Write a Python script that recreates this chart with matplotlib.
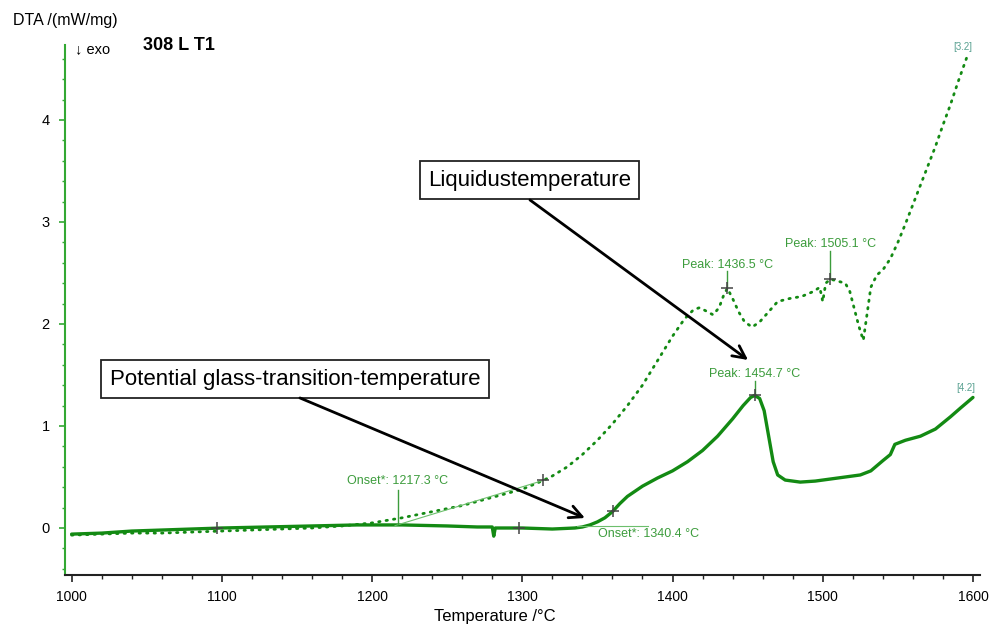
import matplotlib
matplotlib.use('Agg')
import matplotlib.pyplot as plt
from matplotlib.ticker import MultipleLocator
import numpy as np

plt.rcParams['font.family'] = ['Liberation Sans', 'DejaVu Sans']

# DTA segment [3.2] (dotted)
t_32 = [1000, 1020, 1040, 1060, 1080, 1100, 1120, 1140, 1160, 1180, 1200, 1220,
        1240, 1260, 1280, 1300, 1313, 1320, 1330, 1340, 1350, 1360, 1370, 1380,
        1390, 1400, 1408, 1414, 1418, 1422, 1427, 1431, 1434, 1436.5, 1440, 1444,
        1448, 1453, 1458, 1464, 1470, 1478, 1486, 1494, 1498, 1500, 1502, 1505.1,
        1510, 1515, 1518, 1521, 1524, 1527, 1530, 1532, 1536, 1540, 1545, 1550,
        1555, 1560, 1565, 1570, 1575, 1580, 1585, 1590, 1597]
dta_32 = [-0.07, -0.06, -0.05, -0.05, -0.04, -0.03, -0.02, -0.01, 0.00, 0.02, 0.05, 0.10,
          0.16, 0.22, 0.30, 0.38, 0.46, 0.51, 0.60, 0.72, 0.86, 1.02, 1.20, 1.40,
          1.64, 1.88, 2.05, 2.14, 2.16, 2.13, 2.09, 2.16, 2.28, 2.35, 2.25, 2.12,
          2.02, 1.97, 2.02, 2.12, 2.22, 2.25, 2.27, 2.32, 2.36, 2.22, 2.40, 2.44,
          2.42, 2.40, 2.32, 2.15, 1.98, 1.84, 2.15, 2.36, 2.48, 2.53, 2.64, 2.80,
          2.98, 3.17, 3.36, 3.55, 3.74, 3.95, 4.15, 4.37, 4.66]

# DTA segment [4.2] (solid)
t_42 = [1000, 1020, 1040, 1060, 1080, 1100, 1130, 1160, 1190, 1220, 1250, 1270,
        1280, 1281, 1282, 1300, 1320, 1335, 1340, 1345, 1350, 1355, 1360, 1365,
        1370, 1380, 1390, 1400, 1410, 1420, 1430, 1440, 1447, 1452, 1454.7, 1458,
        1461, 1464, 1467, 1470, 1475, 1485, 1495, 1505, 1515, 1525, 1532, 1540,
        1545, 1548, 1555, 1565, 1575, 1585, 1592, 1600]
dta_42 = [-0.06, -0.05, -0.03, -0.02, -0.01, 0.00, 0.01, 0.02, 0.03, 0.03, 0.02, 0.01,
          0.01, -0.08, 0.00, 0.00, -0.01, 0.00, 0.01, 0.03, 0.06, 0.10, 0.16, 0.24,
          0.31, 0.41, 0.49, 0.56, 0.65, 0.76, 0.90, 1.07, 1.20, 1.28, 1.30, 1.27,
          1.15, 0.90, 0.65, 0.52, 0.47, 0.45, 0.46, 0.48, 0.50, 0.52, 0.56, 0.66,
          0.72, 0.82, 0.86, 0.90, 0.97, 1.09, 1.18, 1.28]

# evaluation results
peaks_32 = [1436.5, 1505.1]
peak_42 = 1454.7
onset_32 = 1217.3
onset_42 = 1340.4
cross_32 = [1313.8]
cross_42 = [1097.0, 1298.0, 1360.5]

green = '#138a13'
label_green = '#3c9c3c'
seg_color = '#58a090'

fig = plt.figure(figsize=(10.03, 6.27), dpi=100)
ax = fig.add_axes([0.0648, 0.0829, 0.9123, 0.8453])

ax.plot(t_42, dta_42, color=green, lw=2.4, solid_capstyle='round')
ax.plot(t_32, dta_32, color=green, lw=2.0, linestyle=(0, (0.5, 2.2)), dash_capstyle='round')

ax.set_xlim(995.6, 1604.7)
ax.set_ylim(-0.461, 4.735)

for s in ['top', 'right']:
    ax.spines[s].set_visible(False)
ax.spines['left'].set_color('#33a833')
ax.spines['left'].set_linewidth(1.5)
ax.spines['bottom'].set_color('#222222')
ax.spines['bottom'].set_linewidth(1.5)

ax.xaxis.set_major_locator(MultipleLocator(100))
ax.xaxis.set_minor_locator(MultipleLocator(20))
ax.yaxis.set_major_locator(MultipleLocator(1))
ax.yaxis.set_minor_locator(MultipleLocator(0.2))
ax.tick_params(axis='x', which='major', length=5, width=1.2, color='#222222', labelsize=10, pad=6)
ax.tick_params(axis='x', which='minor', length=3, width=1.0, color='#222222')
ax.tick_params(axis='y', which='major', length=4, width=1.2, color='#33a833', labelsize=10.5, pad=7)
ax.tick_params(axis='y', which='minor', length=2, width=1.0, color='#33a833')

# onset constructions
y_on32 = np.interp(onset_32, t_32, dta_32)
y_c32 = np.interp(cross_32[0], t_32, dta_32)
ax.plot([onset_32 - 2, cross_32[0]], [y_on32 - 0.07, y_c32], color='#6cbf6c', lw=0.8)
ax.plot([onset_32, onset_32], [y_on32 - 0.05, 0.37], color=label_green, lw=1.0)
ax.text(onset_32, 0.46, 'Onset*: 1217.3 °C', color=label_green, fontsize=9, ha='center', va='center')

y_on42 = np.interp(onset_42, t_42, dta_42)
ax.plot([onset_42 - 4, 1384], [y_on42 + 0.005, y_on42 + 0.005], color='#6cbf6c', lw=0.8)
ax.text(onset_42 + 10, -0.06, 'Onset*: 1340.4 °C', color=label_green, fontsize=9, ha='left', va='center')

# peak labels
for tp in peaks_32:
    yp = np.interp(tp, t_32, dta_32)
    ax.plot([tp, tp], [yp, yp + 0.17 if tp < 1500 else yp + 0.28], color=label_green, lw=1.0)
    ax.text(tp, yp + (0.23 if tp < 1500 else 0.34), 'Peak: %.1f °C' % tp,
            color=label_green, fontsize=9, ha='center', va='center')
yp42 = np.interp(peak_42, t_42, dta_42)
ax.plot([peak_42, peak_42], [yp42, yp42 + 0.14], color=label_green, lw=1.0)
ax.text(peak_42, yp42 + 0.21, 'Peak: %.1f °C' % peak_42, color=label_green, fontsize=9,
        ha='center', va='center')

# evaluation crosses
cx = cross_32 + peaks_32
cy = [np.interp(t, t_32, dta_32) for t in cx]
cx2 = cross_42 + [peak_42]
cy2 = [np.interp(t, t_42, dta_42) for t in cx2]
ax.plot(cx + cx2, cy + cy2, linestyle='none', marker='+', ms=9, mew=1.1, color='#444444')

# segment tags
ax.text(t_32[-1] - 4, dta_32[-1] + 0.01, '[3.2]', color=seg_color, fontsize=7, ha='center', va='bottom')
ax.text(t_42[-1] - 5, dta_42[-1] + 0.04, '[4.2]', color=seg_color, fontsize=7, ha='center', va='bottom')

# callouts: boxed labels with separate arrows
box = dict(boxstyle='square,pad=0.38', facecolor='white', edgecolor='#222222', lw=1.3)
arrow = dict(arrowstyle='->,head_length=0.9,head_width=0.45', color='black', lw=2.0,
             shrinkA=0, shrinkB=0)
ax.text(1304.8, 3.41, 'Liquidustemperature', fontsize=16, ha='center', va='center', bbox=box)
ax.annotate('', xy=(1450.3, 1.647), xytext=(1305.1, 3.216), arrowprops=arrow)
ax.text(1148.7, 1.46, 'Potential glass-transition-temperature', fontsize=16,
        ha='center', va='center', bbox=box)
ax.annotate('', xy=(1341.7, 0.098), xytext=(1152.0, 1.275), arrowprops=arrow)

fig.text(0.013, 0.968, 'DTA /(mW/mg)', fontsize=11.5, ha='left', va='center')
fig.text(0.075, 0.921, '↓ exo', fontsize=10.5, ha='left', va='center')
fig.text(0.1426, 0.928, '308 L T1', fontsize=13, fontweight='bold', ha='left', va='center')
fig.text(0.4935, 0.016, 'Temperature /°C', fontsize=12, ha='center', va='center')

fig.savefig('out.png', dpi=100)
